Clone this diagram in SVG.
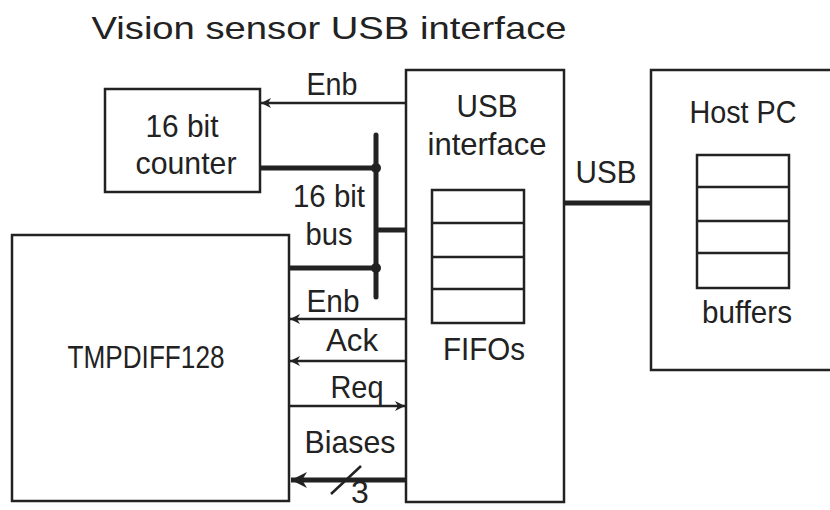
<svg xmlns="http://www.w3.org/2000/svg" width="830" height="510" viewBox="0 0 830 510">
<defs>
<style>
text{font-family:"Liberation Sans",Arial,sans-serif;fill:#222;font-size:32px;text-anchor:middle}
.box{fill:#fff;stroke:#222;stroke-width:2.5}
.thin{stroke:#222;stroke-width:2.5;fill:none}
.bus{stroke:#222;stroke-width:5;fill:none}
.cell{fill:#fff;stroke:#222;stroke-width:2.5}
</style>
<marker id="ah" viewBox="0 0 10 10" refX="10" refY="5" markerWidth="4" markerHeight="4" orient="auto" markerUnits="strokeWidth">
<path d="M0,0 L10,5 L0,10 L3,5 Z" fill="#222"/>
</marker>
<marker id="ahb" viewBox="0 0 10 10" refX="10" refY="5" markerWidth="3.2" markerHeight="3.6" orient="auto" markerUnits="strokeWidth">
<path d="M0,0 L10,5 L0,10 L3,5 Z" fill="#222"/>
</marker>
</defs>
<rect width="830" height="510" fill="#fff"/>
<text x="329" y="39" font-size="37" textLength="475" lengthAdjust="spacingAndGlyphs">Vision sensor USB interface</text>

<g id="counter">
<rect class="box" x="105" y="89" width="155" height="103"/>
<text x="182" y="137" textLength="73" lengthAdjust="spacingAndGlyphs">16 bit</text>
<text x="186" y="174" textLength="101" lengthAdjust="spacingAndGlyphs">counter</text>
</g>

<g id="tmpdiff">
<rect class="box" x="12" y="235" width="277" height="266"/>
<text x="146" y="368" font-size="32" textLength="157" lengthAdjust="spacingAndGlyphs">TMPDIFF128</text>
</g>

<g id="usbif">
<rect class="box" x="406" y="70" width="158" height="432"/>
<text x="487" y="117" textLength="61" lengthAdjust="spacingAndGlyphs">USB</text>
<text x="487" y="155" textLength="119" lengthAdjust="spacingAndGlyphs">interface</text>
<rect class="cell" x="432" y="190" width="92" height="133"/>
<path class="thin" d="M432,223 H524 M432,257 H524 M432,289 H524"/>
<text x="484" y="360" textLength="82" lengthAdjust="spacingAndGlyphs">FIFOs</text>
</g>

<g id="hostpc">
<rect class="box" x="651" y="70" width="200" height="300"/>
<text x="743" y="123" textLength="107" lengthAdjust="spacingAndGlyphs">Host PC</text>
<rect class="cell" x="697" y="155" width="92" height="133"/>
<path class="thin" d="M697,187 H789 M697,221 H789 M697,253 H789"/>
<text x="747" y="323" textLength="90" lengthAdjust="spacingAndGlyphs">buffers</text>
</g>

<g id="connectors">
<line class="thin" x1="406" y1="103" x2="261" y2="103" marker-end="url(#ah)"/>
<text x="332" y="95" textLength="51" lengthAdjust="spacingAndGlyphs">Enb</text>

<line class="bus" x1="376" y1="135" x2="376" y2="297" stroke-linecap="round"/>
<line class="bus" x1="260" y1="168" x2="376" y2="168"/>
<line class="bus" x1="376" y1="230" x2="406" y2="230"/>
<line class="bus" x1="289" y1="268" x2="376" y2="268"/>
<circle cx="376" cy="168" r="5" fill="#222"/>
<circle cx="376" cy="268" r="5" fill="#222"/>
<text x="329" y="207" textLength="72" lengthAdjust="spacingAndGlyphs">16 bit</text>
<text x="329" y="245" textLength="47" lengthAdjust="spacingAndGlyphs">bus</text>

<line class="bus" x1="564" y1="203" x2="651" y2="203" stroke-width="4"/>
<text x="606" y="183" textLength="61" lengthAdjust="spacingAndGlyphs">USB</text>

<line class="thin" x1="406" y1="319" x2="290" y2="319" marker-end="url(#ah)"/>
<text x="333" y="312" textLength="53" lengthAdjust="spacingAndGlyphs">Enb</text>
<line class="thin" x1="406" y1="361" x2="290" y2="361" marker-end="url(#ah)"/>
<text x="352" y="351" textLength="52" lengthAdjust="spacingAndGlyphs">Ack</text>
<line class="thin" x1="289" y1="406" x2="405" y2="406" marker-end="url(#ah)"/>
<text x="357" y="398" textLength="53" lengthAdjust="spacingAndGlyphs">Req</text>
<line class="bus" x1="406" y1="480" x2="291" y2="480" stroke-width="4" marker-end="url(#ahb)"/>
<text x="350" y="453" textLength="91" lengthAdjust="spacingAndGlyphs">Biases</text>
<line class="thin" x1="331" y1="494" x2="361" y2="466"/>
<text x="360" y="503" font-size="24">3</text>
</g>
</svg>
